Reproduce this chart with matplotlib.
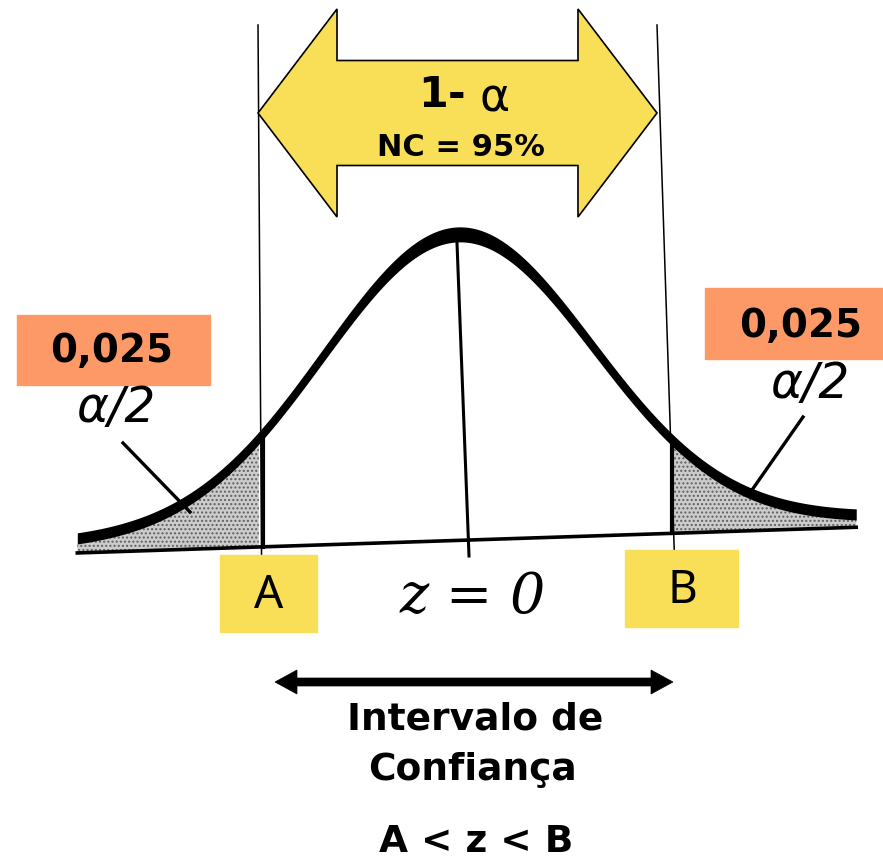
import numpy as np
import matplotlib.pyplot as plt
from matplotlib.patches import Rectangle, Polygon

plt.rcParams['font.family'] = ['DejaVu Sans']

# diagram content
alpha_label = '\u03b1/2'
tail_area = '0,025'
level_text = 'NC = 95%'
bounds = ['A', 'B']
interval_lines = ['Intervalo de', 'Confiança']
relation = 'A < z < B'

# curve shape (pixel layout of the sketch)
xc = 458          # centre of the bell, z = 0
px_per_z = 135    # horizontal scale
peak = 297        # height of the bell
z_lo, z_hi = -2.82, 2.95
z_a, z_b = -1.47, 1.58

orange = '#FC9966'
yellow = '#F9DE57'


def base(x):
    return 540 - 0.033 * (x - 470)


def bell(z):
    return np.exp(-z ** 2 / 2)


def double_arrow(x0, x1, y, shaft, head_len, head_w):
    return [(x0, y), (x0 + head_len, y - head_w), (x0 + head_len, y - shaft),
            (x1 - head_len, y - shaft), (x1 - head_len, y - head_w), (x1, y),
            (x1 - head_len, y + head_w), (x1 - head_len, y + shaft),
            (x0 + head_len, y + shaft), (x0 + head_len, y + head_w)]


fig = plt.figure(figsize=(8.83, 8.64), dpi=100)
ax = fig.add_axes([0, 0, 1, 1])
ax.set_xlim(0, 883)
ax.set_ylim(864, 0)
ax.axis('off')

z = np.linspace(z_lo, z_hi, 400)
x = xc + px_per_z * z
g = bell(z)
mid = base(x) - (peak * g + 9)
thick = 11 + 4 * g
upper = mid - thick / 2
lower = mid + thick / 2

# shaded tails
for m in [(z <= z_a), (z >= z_b)]:
    ax.fill_between(x[m], lower[m], base(x[m]), facecolor='#cccccc',
                    edgecolor='#606060', hatch='....', lw=0, zorder=2)

# bell curve as a thick band
ax.fill_between(x, upper, lower, color='black', lw=0, zorder=4)

# baseline
ax.plot([x[0], x[-1]], [base(x[0]), base(x[-1])], color='black', lw=2.6, zorder=3)

# vertical lines at A, B and the centre
xa, xb = xc + px_per_z * z_a, xc + px_per_z * z_b
ax.plot([258, xa + 2], [25, 556], color='black', lw=1.1, zorder=3)
ax.plot([657, xb + 3], [25, 552], color='black', lw=1.1, zorder=3)
ax.plot([xa + 3, xa + 3], [base(xa) - (peak * bell(z_a) + 9), base(xa)], color='black', lw=3, zorder=3)
ax.plot([xb + 1, xb + 1], [base(xb) - (peak * bell(z_b) + 9), base(xb)], color='black', lw=3, zorder=3)
ax.plot([457, 469], [243, 556], color='black', lw=2.2, zorder=3)

# top double arrow
ax.add_patch(Polygon(double_arrow(258, 657, 113, 52.5, 79, 104), closed=True,
                     facecolor=yellow, edgecolor='black', lw=1.2, zorder=5))
ax.text(466, 95, '1-', fontsize=31, fontweight='bold', ha='right', va='center', zorder=6)
ax.text(480, 99, '\u03b1', fontsize=33, ha='left', va='center', zorder=6)
ax.text(461, 147, level_text, fontsize=22, fontweight='bold', ha='center', va='center', zorder=6)

# tail labels
ax.add_patch(Rectangle((17, 315), 193, 70, color=orange, zorder=5))
ax.add_patch(Rectangle((705, 288), 178, 71, color=orange, zorder=5))
ax.text(112, 351, tail_area, fontsize=28, fontweight='bold', ha='center', va='center', zorder=6)
ax.text(801, 326, tail_area, fontsize=28, fontweight='bold', ha='center', va='center', zorder=6)
ax.text(116, 408, alpha_label, fontsize=35, style='italic',
        ha='center', va='center', zorder=6)
ax.text(810, 384, alpha_label, fontsize=35, style='italic',
        ha='center', va='center', zorder=6)
ax.plot([123, 190], [443, 512], color='black', lw=2.4, zorder=5)
ax.plot([803, 752], [417, 490], color='black', lw=2.4, zorder=5)

# A and B boxes
ax.add_patch(Rectangle((220, 555), 97, 77, color=yellow, zorder=5))
ax.add_patch(Rectangle((625, 550), 113, 77, color=yellow, zorder=5))
ax.text(269, 596, bounds[0], fontsize=33, family='Noto Sans', ha='center', va='center', zorder=6)
ax.text(682, 591, bounds[1], fontsize=33, family='Noto Sans', ha='center', va='center', zorder=6)

ax.text(473, 598, 'z = 0', fontsize=40, family='DejaVu Serif', style='italic',
        ha='center', va='center')

# interval arrow and captions
ax.add_patch(Polygon(double_arrow(275, 673, 682, 4, 22, 12), closed=True,
                     facecolor='black', edgecolor='black', lw=0.5))
ax.text(475, 719, interval_lines[0], fontsize=27, fontweight='bold', ha='center', va='center')
ax.text(472, 770, interval_lines[1], fontsize=27, fontweight='bold', ha='center', va='center')
ax.text(476, 842, relation, fontsize=27, fontweight='bold', ha='center', va='center')

fig.savefig('out.png', dpi=100)
